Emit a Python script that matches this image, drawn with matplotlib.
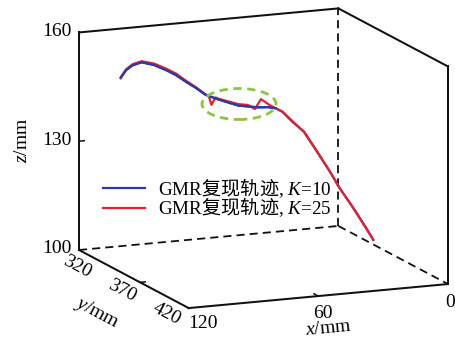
import matplotlib

matplotlib.use("Agg")

import matplotlib.pyplot as plt
import numpy as np
from matplotlib.patches import Ellipse

W, H, DPI = 456, 342, 100

BLUE = "#2a3aa6"
RED = "#e8202c"
GREEN = "#8cc63f"
BLACK = "#111111"

plt.rcParams.update(
    {
        "font.family": ["Liberation Serif", "Noto Sans CJK SC"],
        "font.size": 14,
        "mathtext.fontset": "custom",
        "mathtext.rm": "Liberation Serif",
        "mathtext.it": "Liberation Serif:italic",
        "mathtext.sf": "Noto Sans CJK SC",
    }
)

X_LIM = (0, 120)
Y_LIM = (302, 424)
Z_LIM = (100, 160)
X_TICKS = [120, 60, 0]
Y_TICKS = [320, 370, 420]
Z_TICKS = [100, 130, 160]

LABEL_K10 = r"GMR$\mathsf{复现轨迹}$, $K$=10"
LABEL_K25 = r"GMR$\mathsf{复现轨迹}$, $K$=25"

# GMR reproduction, K=10 (mm)
k10_x = [118.5, 116.2, 113.1, 108.9, 103.0, 97.5, 93.0, 88.4, 83.9, 79.3,
         73.4, 68.8, 64.2, 59.7, 55.1, 50.5, 46.9, 43.7, 39.1, 33.7,
         27.7, 21.8, 17.2, 10.8, 4.9, 1.7]
k10_y = [345, 345, 345, 345, 345, 345, 345, 345, 345, 345,
         345, 345, 345, 345, 345, 345, 345, 345, 345, 345,
         345, 345, 345, 345, 345, 345]
k10_z = [153.2, 155.0, 156.2, 156.8, 155.7, 154.0, 152.4, 150.3, 148.4, 146.2,
         144.6, 143.5, 142.4, 141.9, 141.4, 141.2, 140.7, 139.5, 136.5, 133.5,
         127.7, 121.9, 117.0, 111.1, 105.3, 101.9]

# GMR reproduction, K=25 (mm)
k25_x = [118.6, 116.2, 113.1, 108.9, 103.0, 97.5, 93.0, 88.4, 83.9, 79.3,
         77.9, 76.6, 74.7, 73.4, 68.8, 64.2, 59.7, 56.5, 53.7, 49.6,
         46.9, 43.7, 39.1, 33.9, 27.9, 21.9, 17.3, 10.9, 5.0, 1.7]
k25_y = [345, 345, 345, 345, 345, 345, 345, 345, 345, 345,
         345, 345, 345, 345, 345, 345, 345, 345, 345, 345,
         345, 345, 345, 345, 345, 345, 345, 345, 345, 345]
k25_z = [152.9, 155.2, 156.5, 157.1, 156.1, 154.4, 152.8, 150.6, 148.6, 146.3,
         145.9, 143.3, 145.2, 144.8, 143.8, 142.8, 142.3, 141.0, 143.6, 141.7,
         140.7, 139.6, 136.7, 133.5, 127.8, 121.9, 117.0, 111.1, 105.2, 101.9]

fig = plt.figure(figsize=(W / DPI, H / DPI), dpi=DPI)
ax = fig.add_axes([0, 0, 1, 1], projection="3d", proj_type="ortho", computed_zorder=False)
ax.view_init(elev=12.8, azim=67.3)
ax.set_box_aspect((281, 284, 223))
ax.set_xlim(*X_LIM)
ax.set_ylim(*Y_LIM)
ax.set_zlim(*Z_LIM)
ax.set_axis_off()

x0, x1 = X_LIM
y0, y1 = Y_LIM
z0, z1 = Z_LIM

# box: outer edges solid, the three edges meeting at the far corner dashed
solid_edges = [
    ((x1, x1), (y0, y0), (z0, z1)),
    ((x1, x1), (y0, y1), (z0, z0)),
    ((x1, x0), (y1, y1), (z0, z0)),
    ((x0, x0), (y1, y1), (z0, z1)),
    ((x1, x0), (y0, y0), (z1, z1)),
    ((x0, x0), (y0, y1), (z1, z1)),
]
dashed_edges = [
    ((x0, x0), (y0, y0), (z0, z1)),
    ((x1, x0), (y0, y0), (z0, z0)),
    ((x0, x0), (y0, y1), (z0, z0)),
]
for ex, ey, ez in solid_edges:
    ax.plot(ex, ey, ez, color=BLACK, lw=1.45, solid_capstyle="projecting")
for ex, ey, ez in dashed_edges:
    ax.plot(ex, ey, ez, color=BLACK, lw=1.3, ls=(0, (4.5, 2.8)))

# inner tick marks
tick_x = 0.02 * (x1 - x0)
tick_y = 0.04 * (y1 - y0)
ax.plot((x1, x1 - tick_x), (y0, y0), (Z_TICKS[1], Z_TICKS[1]), color=BLACK, lw=1.1)
ax.plot((x1, x1 - tick_x), (Y_TICKS[1], Y_TICKS[1]), (z0, z0), color=BLACK, lw=1.1)
ax.plot((X_TICKS[1], X_TICKS[1]), (y1, y1 - tick_y), (z0, z0), color=BLACK, lw=1.1)

h10, = ax.plot(k10_x, k10_y, k10_z, color=BLUE, lw=1.6, label=LABEL_K10)
h25, = ax.plot(k25_x, k25_y, k25_z, color=RED, lw=1.6, label=LABEL_K25)
# the K=10 curve stays on top along the upper stretch
n_top = 17
ax.plot(k10_x[:n_top], k10_y[:n_top], k10_z[:n_top], color=BLUE, lw=1.6)


def to_px(x, y, z):
    v = ax.get_proj() @ np.array([x, y, z, 1.0])
    return ax.transData.transform((v[0] / v[3], v[1] / v[3]))


# scale and place the square 3D axes so the box sits where wanted
fig.canvas.draw()
pa = to_px(x1, y0, z0)
pc = to_px(x0, y1, z0)
ta = np.array([79.0, H - 250.0])
tc = np.array([448.0, H - 284.0])
scale = np.linalg.norm(tc - ta) / np.linalg.norm(pc - pa)
pos = ax.get_position()
L, B, S = pos.x0 * W, pos.y0 * H, pos.width * W
rel = (pa - np.array([L, B])) / S
S2 = S * scale
L2, B2 = ta - S2 * rel
ax.set_position([L2 / W, B2 / H, S2 / W, S2 / H])
fig.canvas.draw()


def put(px, dx, dy, text, **kw):
    fig.text((px[0] + dx) / W, (px[1] + dy) / H, text, **kw)


for t in Z_TICKS:
    put(to_px(x1, y0, t), -7, 1, str(t), ha="right", va="center")

y_rot = -27.8
for t in Y_TICKS:
    put(to_px(x1, t, z0), -18, -8, str(t), ha="center", va="center",
        rotation=y_rot, rotation_mode="anchor")

x_offsets = [(14, -15), (5, -17), (2, -18)]
for t, (dx, dy) in zip(X_TICKS, x_offsets):
    put(to_px(t, y1, z0), dx, dy, str(t), ha="center", va="center")

mid_z = to_px(x1, y0, 0.5 * (z0 + z1))
put(mid_z, -57, 1, r"$z$/mm", ha="center", va="center", rotation=90)
mid_y = to_px(x1, 0.5 * (y0 + y1), z0)
put(mid_y, -37, -34, r"$y$/mm", ha="center", va="center",
    rotation=y_rot, rotation_mode="anchor")
mid_x = to_px(0.5 * (x0 + x1), y1, z0)
put(mid_x, 10, -32, r"$x$/mm", ha="center", va="center",
    rotation=5.3, rotation_mode="anchor")

fig.legend(
    handles=[h10, h25],
    loc="upper left",
    bbox_to_anchor=(103 / W, 1 - 176 / H),
    frameon=False,
    fontsize=13.8,
    handlelength=2.2,
    handletextpad=0.68,
    labelspacing=-0.23,
    borderpad=0,
    borderaxespad=0,
)

# highlight around the K=25 wiggles
fig.add_artist(
    Ellipse(
        (239 / W, 1 - 104 / H),
        74 / W,
        31 / H,
        transform=fig.transFigure,
        fill=False,
        edgecolor=GREEN,
        lw=2.0,
        ls=(0, (3, 2)),
    )
)

fig.savefig("out.png", dpi=DPI)
